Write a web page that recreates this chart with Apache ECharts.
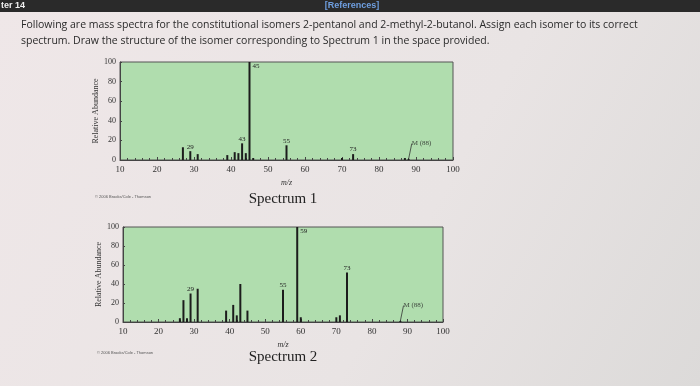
<!DOCTYPE html>
<html><head><meta charset="utf-8">
<script src="https://cdn.jsdelivr.net/npm/echarts@6/dist/echarts.min.js"></script>
<style>html,body{margin:0;padding:0;}#c{width:700px;height:386px;}</style>
</head><body><div id="c"></div>
<script>
// Spectrum 1 (m/z and relative abundance)
var mz1 = [27, 29, 31, 39, 41, 42, 43, 44, 45, 46, 55, 70, 73, 87, 88];
var ab1 = [13, 9, 6, 5, 8, 7, 17, 7, 100, 2, 15, 2, 6, 2, 1];
var labelled1 = [29, 43, 55, 73];
var base1 = 45;
// Spectrum 2
var mz2 = [26, 27, 28, 29, 31, 39, 41, 42, 43, 45, 55, 59, 60, 70, 71, 73, 88];
var ab2 = [4, 23, 4, 30, 35, 12, 18, 7, 40, 12, 34, 100, 5, 5, 7, 52, 1];
var labelled2 = [29, 55, 73];
var base2 = 59;
var molIon = 88;
var xTicks = [10, 20, 30, 40, 50, 60, 70, 80, 90, 100];
var yTicks = [0, 20, 40, 60, 80, 100];

var SERIF = '"Liberation Serif","DejaVu Serif",serif';
var chart = echarts.init(document.getElementById('c'), null, {renderer: 'canvas'});

function barData(mz, ab, labelled, base) {
  return mz.map(function (m, i) {
    var item = {value: [m, ab[i]]};
    if (labelled.indexOf(m) >= 0) {
      item.label = {show: true, position: 'top', distance: 1, formatter: String(m)};
    } else if (m === base) {
      item.label = {show: true, position: [4, 1], formatter: String(m)};
    }
    return item;
  });
}

function xAxis(gi) {
  return {
    gridIndex: gi, type: 'value', min: xTicks[0], max: xTicks[xTicks.length - 1], interval: 10,
    name: 'm/z', nameLocation: 'middle', nameGap: 19,
    nameTextStyle: {fontFamily: SERIF, fontStyle: 'italic', fontSize: 8, color: '#333'},
    axisLine: {show: true, lineStyle: {color: '#444', width: 1}},
    axisTick: {show: true, inside: true, length: 3, lineStyle: {color: '#444'}},
    minorTick: {show: true, splitNumber: 5, length: 2, lineStyle: {color: '#444'}},
    splitLine: {show: false},
    axisLabel: {fontFamily: SERIF, fontSize: 9, color: '#333', margin: 5}
  };
}
function yAxis(gi) {
  return {
    gridIndex: gi, type: 'value', min: yTicks[0], max: yTicks[yTicks.length - 1], interval: 20,
    name: 'Relative Abundance', nameLocation: 'middle', nameGap: 13, nameRotate: 90,
    nameTextStyle: {fontFamily: SERIF, fontSize: 8, color: '#333'},
    axisLine: {show: true, lineStyle: {color: '#444'}},
    axisTick: {show: true, inside: true, length: 2, lineStyle: {color: '#444'}},
    splitLine: {show: false},
    axisLabel: {fontFamily: SERIF, fontSize: 8, color: '#333', margin: 4}
  };
}

function barSeries(gi, mz, ab, labelled, base) {
  return {
    type: 'bar', xAxisIndex: gi, yAxisIndex: gi, barWidth: 2,
    itemStyle: {color: '#1c1c1c'},
    label: {fontFamily: SERIF, fontSize: 7, color: '#222'},
    data: barData(mz, ab, labelled, base),
    silent: true, animation: false
  };
}
function molSeries(gi, mz, ab) {
  var i = mz.indexOf(molIon);
  return {
    type: 'scatter', xAxisIndex: gi, yAxisIndex: gi, symbolSize: 0,
    data: [[molIon, ab[i]]],
    label: {show: true, formatter: 'M (' + molIon + ')', position: 'top',
      fontFamily: SERIF, fontSize: 7, color: '#222'},
    labelLayout: {dx: 13, dy: -7},
    labelLine: {show: true, lineStyle: {color: '#333', width: 0.8}},
    silent: true, animation: false
  };
}

var option = {
  animation: false,
  backgroundColor: {
    type: 'linear', x: 0, y: 0, x2: 1, y2: 1,
    colorStops: [{offset: 0, color: '#efe7e8'}, {offset: 0.6, color: '#e9e4e4'}, {offset: 1, color: '#dcdad9'}]
  },
  grid: [
    {left: 120, top: 62, width: 333, height: 98, show: true, backgroundColor: '#b0ddae', borderColor: '#555', borderWidth: 1},
    {left: 123, top: 227, width: 320, height: 95, show: true, backgroundColor: '#b0ddae', borderColor: '#555', borderWidth: 1}
  ],
  xAxis: [xAxis(0), xAxis(1)],
  yAxis: [yAxis(0), yAxis(1)],
  series: [
    barSeries(0, mz1, ab1, labelled1, base1),
    molSeries(0, mz1, ab1),
    barSeries(1, mz2, ab2, labelled2, base2),
    molSeries(1, mz2, ab2)
  ],
  graphic: [
    {type: 'rect', shape: {x: 0, y: 0, width: 700, height: 12}, style: {fill: '#2a2a2a'}, z: 10},
    {type: 'text', x: 1, y: 6, style: {text: 'ter 14', fill: '#f0f0f0', font: 'bold 9px "Liberation Sans", sans-serif', textVerticalAlign: 'middle'}, z: 11},
    {type: 'text', x: 352, y: 6, style: {text: '[References]', fill: '#6f9fe0', font: 'bold 9px "Liberation Sans", sans-serif', textAlign: 'center', textVerticalAlign: 'middle'}, z: 11},
    {type: 'text', x: 21, y: 25, style: {text: 'Following are mass spectra for the constitutional isomers 2-pentanol and 2-methyl-2-butanol. Assign each isomer to its correct', fill: '#2a2a2a', font: '10.5px "Open Sans", "Liberation Sans", sans-serif', textVerticalAlign: 'middle'}},
    {type: 'text', x: 21, y: 41, style: {text: 'spectrum. Draw the structure of the isomer corresponding to Spectrum 1 in the space provided.', fill: '#2a2a2a', font: '10.5px "Open Sans", "Liberation Sans", sans-serif', textVerticalAlign: 'middle'}},
    {type: 'text', x: 283, y: 199, style: {text: 'Spectrum 1', fill: '#222', font: '15px "Liberation Serif", serif', textAlign: 'center', textVerticalAlign: 'middle'}},
    {type: 'text', x: 283, y: 357, style: {text: 'Spectrum 2', fill: '#222', font: '15px "Liberation Serif", serif', textAlign: 'center', textVerticalAlign: 'middle'}},
    {type: 'text', x: 95, y: 197, style: {text: '© 2006 Brooks/Cole - Thomson', fill: '#555', font: '4px "Liberation Sans", sans-serif', textVerticalAlign: 'middle'}},
    {type: 'text', x: 97, y: 353, style: {text: '© 2006 Brooks/Cole - Thomson', fill: '#555', font: '4px "Liberation Sans", sans-serif', textVerticalAlign: 'middle'}}
  ]
};
chart.setOption(option);
</script>
</body></html>
